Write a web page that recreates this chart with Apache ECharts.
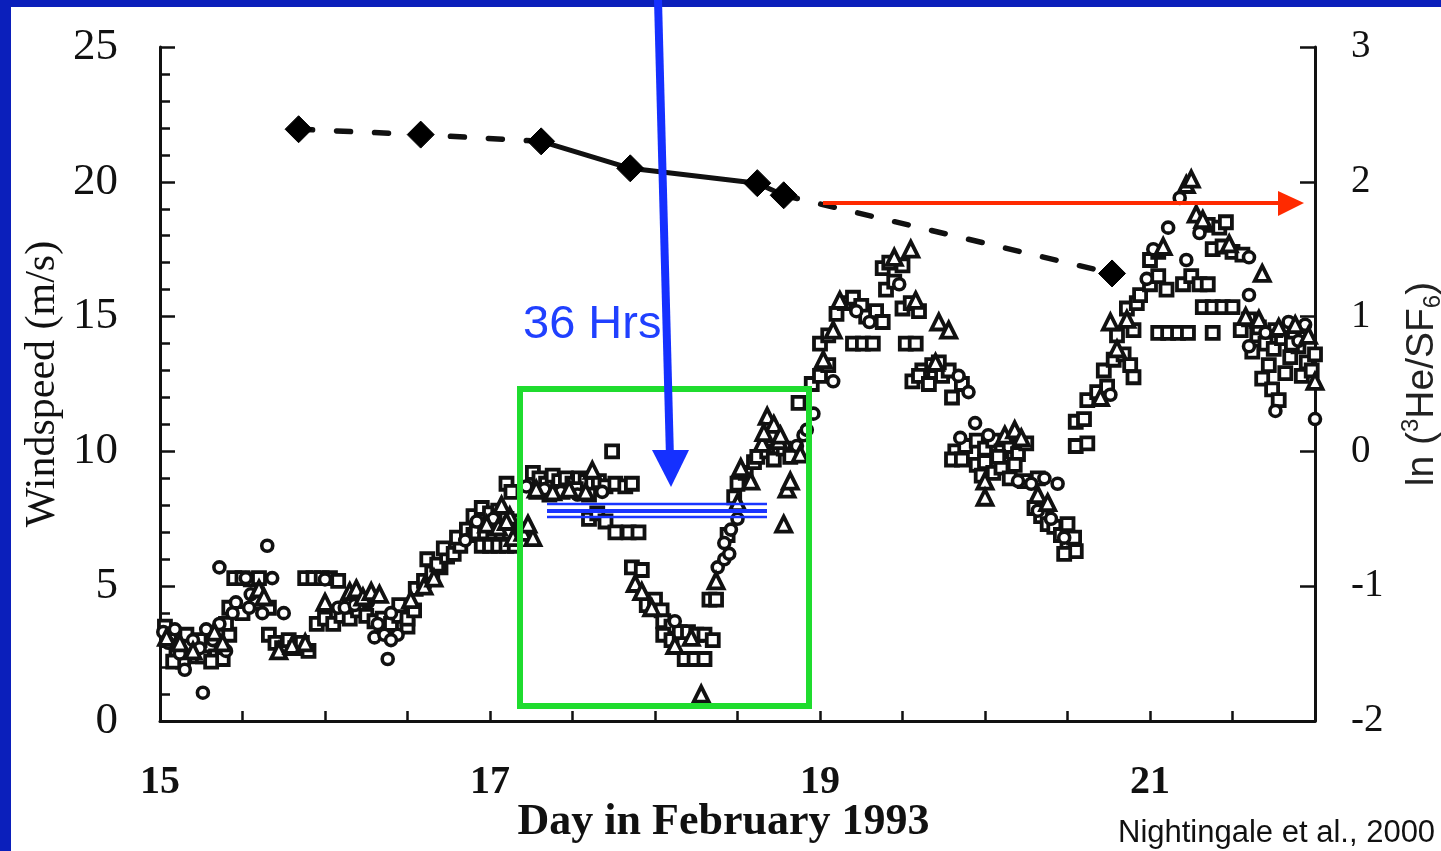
<!DOCTYPE html>
<html>
<head>
<meta charset="utf-8">
<title>Windspeed and ln(3He/SF6), February 1993</title>
<script src="https://cdn.jsdelivr.net/npm/echarts@6/dist/echarts.min.js"></script>
<style>
  html, body { margin: 0; padding: 0; background: #fff; }
  #chart { width: 1441px; height: 851px; }
</style>
</head>
<body>
<div id="chart"></div>
<script>
// x tick labels shown on the day axis
const dayLabels = [15, 17, 19, 21];

// ln(3He/SF6) samples (right axis)
const lnDays = [15.84, 16.58, 17.31, 17.85, 18.62, 18.78, 20.77];
const lnRatio = [2.39, 2.35, 2.30, 2.10, 1.99, 1.90, 1.32];

// windspeed (m/s) observations, [day, windspeed], by marker type
const squareObs = [
  [15.03, 3.5], [15.06, 3.0], [15.1, 2.6], [15.14, 2.2], [15.18, 2.8], [15.22, 2.4], [15.26, 2.4], [15.3, 2.8],
  [15.34, 2.4], [15.38, 2.3], [15.42, 3.2], [15.4, 3.6], [15.08, 2.2], [15.16, 3.2], [15.24, 3.0], [15.31, 2.2],
  [15.45, 5.3], [15.5, 5.3], [15.55, 5.25], [15.6, 5.3], [15.42, 4.2], [15.5, 4.0], [15.58, 4.4], [15.66, 4.2],
  [15.66, 3.2], [15.7, 2.9], [15.74, 2.7], [15.78, 3.0], [15.82, 2.7], [15.86, 2.9], [15.9, 2.6],
  [15.88, 5.3], [15.93, 5.3], [15.98, 5.3], [16.03, 5.3], [16.08, 5.2],
  [15.95, 3.6], [16.0, 3.8], [16.05, 3.6], [16.1, 3.9], [16.15, 3.8], [16.2, 4.1], [16.25, 3.9], [16.3, 3.7],
  [16.35, 3.8], [16.4, 3.6], [16.45, 3.9], [16.5, 3.5], [16.45, 4.3], [16.5, 3.8], [16.54, 4.1],
  [16.55, 4.9], [16.6, 5.2], [16.65, 5.5], [16.7, 5.7], [16.62, 6.0], [16.68, 5.8], [16.74, 6.1], [16.72, 6.4],
  [16.78, 6.2], [16.82, 6.5], [16.8, 6.8], [16.86, 7.1], [16.9, 6.9],
  [16.9, 7.6], [16.95, 7.9], [17.0, 7.7], [17.05, 7.8], [17.1, 7.5], [17.15, 7.4],
  [16.92, 7.0], [16.97, 7.0], [17.02, 7.0], [17.07, 7.0], [17.12, 7.0],
  [16.95, 6.5], [17.0, 6.5], [17.05, 6.5], [17.1, 6.5], [17.15, 6.5], [17.1, 8.8], [17.13, 8.5],
  [17.26, 9.2], [17.3, 9.0], [17.34, 8.8], [17.38, 9.1], [17.42, 8.9], [17.46, 9.0], [17.5, 8.8], [17.54, 9.0],
  [17.58, 8.9], [17.62, 8.8], [17.66, 8.9], [17.7, 8.7], [17.76, 8.8], [17.82, 8.7], [17.86, 8.8], [17.74, 10.0],
  [17.28, 8.5], [17.36, 8.4], [17.44, 8.5], [17.52, 8.6], [17.6, 8.4],
  [17.6, 7.5], [17.65, 7.7], [17.7, 7.4], [17.76, 7.0], [17.84, 7.0], [17.9, 7.0],
  [17.86, 5.7], [17.92, 5.6], [17.95, 4.3], [18.0, 4.5], [18.04, 4.1], [18.05, 3.7], [18.1, 3.5],
  [18.05, 3.2], [18.1, 3.0], [18.15, 3.3], [18.2, 3.3], [18.25, 3.2], [18.3, 3.2], [18.35, 3.0],
  [18.18, 2.3], [18.24, 2.3], [18.3, 2.3], [18.33, 4.5], [18.37, 4.5], [18.44, 6.9], [18.48, 8.3],
  [18.5, 8.8], [18.55, 9.2], [18.6, 9.6], [18.62, 9.8], [18.68, 10.0], [18.72, 9.7], [18.78, 10.1], [18.82, 9.8],
  [18.7, 10.6], [18.87, 11.8],
  [18.95, 12.5], [19.0, 12.8], [19.05, 13.2], [19.0, 14.0], [19.05, 14.3], [19.1, 15.1], [19.15, 15.5], [19.2, 15.7],
  [19.25, 15.4], [19.2, 14.0], [19.26, 14.0], [19.32, 14.0], [19.28, 15.0], [19.34, 15.2], [19.38, 14.8],
  [19.38, 16.8], [19.42, 17.0], [19.5, 16.9], [19.4, 16.0], [19.45, 16.3], [19.5, 15.3], [19.55, 15.5], [19.6, 15.2],
  [19.52, 14.0], [19.58, 14.0], [19.56, 12.6], [19.62, 13.0], [19.68, 13.2], [19.74, 12.8], [19.78, 13.0],
  [19.8, 12.0], [19.86, 12.5], [19.6, 12.8], [19.66, 12.5], [19.72, 13.3],
  [19.82, 10.0], [19.88, 10.2], [19.95, 10.4], [20.0, 10.1], [20.05, 10.4], [20.1, 10.0], [20.15, 10.2], [20.2, 9.9],
  [20.25, 10.3], [19.8, 9.7], [19.86, 9.7], [19.95, 9.5], [20.0, 9.6], [20.05, 9.2], [20.1, 9.4], [20.15, 9.0],
  [20.18, 9.5], [20.24, 8.9], [20.32, 9.0], [20.08, 9.8], [19.98, 9.1],
  [20.3, 7.9], [20.34, 7.6], [20.38, 7.3], [20.42, 7.2], [20.46, 6.9], [20.5, 6.6], [20.54, 6.8], [20.5, 7.3],
  [20.55, 6.3], [20.48, 6.2],
  [20.55, 11.1], [20.6, 11.2], [20.55, 10.2], [20.62, 10.3],
  [20.62, 11.9], [20.68, 12.2], [20.74, 12.4], [20.72, 13.0], [20.78, 13.4], [20.84, 13.6], [20.88, 13.2],
  [20.9, 12.75], [20.8, 14.3], [20.9, 14.5], [20.86, 15.3], [20.92, 15.5],
  [20.94, 15.8], [21.0, 16.2], [21.05, 16.5], [21.1, 16.0], [21.0, 17.1], [21.05, 17.4],
  [21.05, 14.4], [21.11, 14.4], [21.17, 14.4], [21.23, 14.4], [21.38, 14.4],
  [21.2, 16.2], [21.25, 16.5], [21.3, 16.2], [21.35, 16.2],
  [21.35, 18.4], [21.42, 18.3], [21.46, 18.5], [21.38, 17.5], [21.44, 17.6], [21.5, 17.4], [21.56, 17.3],
  [21.32, 15.35], [21.38, 15.35], [21.44, 15.35], [21.5, 15.35],
  [21.55, 14.5], [21.6, 14.9], [21.65, 14.3], [21.7, 14.0], [21.75, 13.8], [21.8, 14.2], [21.85, 13.5], [21.9, 13.9],
  [21.95, 13.3], [22.0, 13.6], [21.62, 13.7], [21.72, 13.2], [21.82, 12.9], [21.92, 12.8], [21.98, 13.0],
  [21.68, 12.7], [21.74, 12.3], [21.78, 11.9], [21.66, 14.6], [21.76, 14.5], [21.86, 14.0]
];
const circleObs = [
  [15.02, 3.3], [15.05, 2.9], [15.09, 3.4], [15.12, 2.5], [15.15, 1.9], [15.2, 3.0], [15.24, 2.7], [15.26, 1.05],
  [15.28, 3.4], [15.32, 3.0], [15.36, 3.6], [15.4, 2.6], [15.44, 4.0],
  [15.36, 5.7], [15.65, 6.5], [15.52, 5.3], [15.68, 5.3], [15.46, 4.4], [15.54, 4.2], [15.62, 4.0], [15.75, 4.0],
  [15.55, 4.7],
  [16.0, 5.25], [16.08, 4.2], [16.12, 4.2], [16.18, 4.3], [16.26, 4.4], [16.32, 3.6], [16.4, 4.0], [16.44, 3.2],
  [16.3, 3.1], [16.36, 3.2], [16.4, 3.0], [16.38, 2.3],
  [16.85, 6.7], [16.92, 7.4], [17.02, 7.5],
  [17.22, 8.7], [17.33, 8.6], [17.43, 8.5], [17.53, 8.4], [17.68, 8.5],
  [18.12, 3.7], [18.38, 5.7], [18.42, 6.0], [18.45, 6.2], [18.42, 6.6], [18.46, 7.1], [18.5, 7.5],
  [18.86, 10.2], [18.9, 10.6], [18.96, 11.4], [18.92, 10.8],
  [19.08, 12.6], [19.22, 15.2], [19.3, 14.8], [19.48, 16.2], [19.84, 12.8], [19.9, 12.2], [19.85, 10.5],
  [20.02, 10.6], [19.94, 11.05],
  [20.2, 8.9], [20.28, 8.8], [20.36, 9.0], [20.44, 8.8], [20.32, 7.8], [20.4, 7.5], [20.48, 6.8],
  [20.76, 12.1], [20.98, 16.4], [21.02, 17.5], [21.22, 17.1], [21.11, 18.3], [21.18, 19.4], [21.3, 18.1],
  [21.6, 17.2], [21.6, 15.8],
  [21.6, 13.9], [21.7, 14.4], [21.84, 14.8], [21.94, 14.7], [21.76, 11.5], [21.9, 14.1], [22.0, 11.2]
];
const triangleObs = [
  [15.04, 3.1], [15.12, 2.9], [15.2, 2.6], [15.33, 3.3], [15.38, 2.9],
  [15.6, 4.9], [15.63, 4.6], [15.72, 2.6], [15.8, 2.8], [15.88, 2.9],
  [16.0, 4.4], [16.15, 4.8], [16.19, 4.9], [16.23, 4.6], [16.28, 4.8], [16.33, 4.7], [16.52, 4.5],
  [16.6, 5.0], [16.66, 5.3], [16.98, 7.3], [17.05, 7.2], [17.12, 7.6],
  [17.07, 8.0], [17.1, 7.4], [17.14, 6.8], [17.2, 7.0], [17.26, 6.8], [17.23, 7.3],
  [17.28, 8.6], [17.38, 8.5], [17.48, 8.6], [17.58, 8.5], [17.62, 9.3],
  [17.88, 5.1], [17.92, 4.8], [17.98, 4.2], [18.12, 2.8], [18.22, 3.1], [18.28, 1.0], [18.37, 5.2],
  [18.5, 8.1], [18.52, 9.4], [18.58, 8.9], [18.65, 10.3], [18.75, 10.4], [18.68, 11.3], [18.72, 11.0],
  [18.66, 10.7], [18.76, 10.6], [18.8, 8.6], [18.82, 8.9], [18.78, 7.3], [18.88, 9.9],
  [19.02, 13.4], [19.08, 14.5], [19.12, 15.6], [19.45, 17.2], [19.55, 17.5], [19.58, 15.6], [19.72, 14.8],
  [19.78, 14.5], [19.7, 13.3],
  [20.12, 10.6], [20.18, 10.8], [20.22, 10.5], [20.0, 8.9], [20.0, 8.3], [20.32, 8.4], [20.38, 8.1],
  [20.7, 12.0], [20.8, 13.8], [20.76, 14.8], [20.86, 14.9], [21.08, 17.6], [21.22, 19.9], [21.25, 20.1],
  [21.28, 18.8], [21.32, 18.6], [21.48, 17.7], [21.68, 16.6],
  [21.58, 15.0], [21.66, 14.9], [21.78, 14.6], [21.88, 14.7], [21.96, 14.3], [22.0, 12.6]
];

const ink = "#111111";
const lnPoints = lnDays.map((d, i) => [d, lnRatio[i]]);

function openMarker(name, symbol, size, border, data) {
  return {
    name: name,
    type: "scatter",
    xAxisIndex: 0,
    yAxisIndex: 0,
    data: data,
    symbol: symbol,
    symbolSize: size,
    itemStyle: { color: "#ffffff", borderColor: ink, borderWidth: border, opacity: 1 },
    z: 3,
  };
}

const serif = "Liberation Serif";
const sans = "Liberation Sans";

const option = {
  animation: false,
  backgroundColor: "#ffffff",
  grid: { left: 160, right: 126, top: 47, bottom: 130, containLabel: false, outerBoundsMode: "none" },
  xAxis: {
    type: "value",
    min: 15,
    max: 22,
    interval: 0.5,
    axisLine: { show: true, onZero: false, lineStyle: { color: ink, width: 3 } },
    axisTick: { show: true, inside: true, length: 10, lineStyle: { color: ink, width: 2.5 } },
    axisLabel: {
      margin: 42,
      color: ink,
      fontFamily: serif,
      fontSize: 40,
      fontWeight: "bold",
      formatter: (v) => (dayLabels.includes(v) ? String(v) : ""),
    },
    splitLine: { show: false },
    name: "Day in February 1993",
    nameLocation: "middle",
    nameGap: 80,
    nameMoveOverlap: false,
    nameTextStyle: { color: ink, fontFamily: serif, fontSize: 44, fontWeight: "bold", padding: [0, 28, 0, 0] },
  },
  yAxis: [
    {
      type: "value",
      position: "left",
      min: 0,
      max: 25,
      interval: 5,
      axisLine: { show: true, onZero: false, lineStyle: { color: ink, width: 3 } },
      axisTick: { show: true, inside: true, length: 15, lineStyle: { color: ink, width: 2.5 } },
      minorTick: { show: true, splitNumber: 5, length: 10, lineStyle: { color: ink, width: 2.5 } },
      axisLabel: { margin: 42, color: ink, fontFamily: serif, fontSize: 45 },
      splitLine: { show: false },
      name: "Windspeed (m/s)",
      nameLocation: "middle",
      nameRotate: 90,
      nameGap: 96,
      nameMoveOverlap: false,
      nameTextStyle: { color: ink, fontFamily: serif, fontSize: 42 },
    },
    {
      type: "value",
      position: "right",
      min: -2,
      max: 3,
      interval: 1,
      axisLine: { show: true, onZero: false, lineStyle: { color: ink, width: 3 } },
      axisTick: { show: true, inside: true, length: 15, lineStyle: { color: ink, width: 2.5 } },
      axisLabel: { margin: 36, color: ink, fontFamily: serif, fontSize: 39 },
      splitLine: { show: false },
      name: "{n|ln (}{sup|3}{n|He/SF}{sub|6}{n|)}",
      nameLocation: "middle",
      nameRotate: 90,
      nameGap: 84,
      nameMoveOverlap: false,
      nameTextStyle: {
        rich: {
          n: { fontFamily: sans, fontSize: 39, color: "#222222", lineHeight: 46 },
          sup: { fontFamily: sans, fontSize: 24, color: "#222222", lineHeight: 24, verticalAlign: "top" },
          sub: { fontFamily: sans, fontSize: 24, color: "#222222", lineHeight: 24, verticalAlign: "bottom" },
        },
      },
    },
  ],
  series: [
    openMarker("squares", "rect", 12, 3.8, squareObs),
    openMarker("circles", "circle", 11, 3.6, circleObs),
    openMarker("triangles", "triangle", 15, 3.8, triangleObs),
    {
      name: "ln dashed early",
      type: "line",
      yAxisIndex: 1,
      data: lnPoints.slice(0, 3),
      showSymbol: false,
      lineStyle: { color: ink, width: 5.5, type: [14, 24], cap: "round", opacity: 1 },
      z: 4,
    },
    {
      name: "ln solid",
      type: "line",
      yAxisIndex: 1,
      data: lnPoints.slice(2, 6),
      showSymbol: false,
      lineStyle: { color: ink, width: 5, type: "solid", opacity: 1 },
      z: 4,
    },
    {
      name: "ln dashed late",
      type: "line",
      yAxisIndex: 1,
      data: lnPoints.slice(5, 7),
      showSymbol: false,
      lineStyle: { color: ink, width: 5.5, type: [14, 24], cap: "round", opacity: 1 },
      z: 4,
    },
    {
      name: "ln(3He/SF6)",
      type: "scatter",
      yAxisIndex: 1,
      data: lnPoints,
      symbol: "diamond",
      symbolSize: 27,
      itemStyle: { color: "#000000", borderColor: "#000000", borderWidth: 1, opacity: 1 },
      z: 5,
    },
  ],
  graphic: {
    elements: [
      // green box around the 36 h window
      { type: "rect", z: 100, shape: { x: 520, y: 389, width: 289, height: 317 },
        style: { fill: "none", stroke: "#1fdc2e", lineWidth: 6 } },
      // blue triple line
      { type: "line", z: 101, shape: { x1: 547, y1: 504, x2: 767, y2: 504 }, style: { stroke: "#1a35ff", lineWidth: 2.5 } },
      { type: "line", z: 101, shape: { x1: 547, y1: 511, x2: 767, y2: 511 }, style: { stroke: "#1a35ff", lineWidth: 4 } },
      { type: "line", z: 101, shape: { x1: 547, y1: 517, x2: 767, y2: 517 }, style: { stroke: "#1a35ff", lineWidth: 2.5 } },
      // red arrow
      { type: "line", z: 101, shape: { x1: 823, y1: 203, x2: 1282, y2: 203 }, style: { stroke: "#ff2a00", lineWidth: 4 } },
      { type: "polygon", z: 101, shape: { points: [[1278, 191], [1278, 216], [1304, 203]] }, style: { fill: "#ff2a00" } },
      // page frame
      { type: "rect", z: 102, shape: { x: 0, y: 0, width: 1441, height: 7 }, style: { fill: "#0b1fbb" } },
      { type: "rect", z: 102, shape: { x: 0, y: 0, width: 11, height: 851 }, style: { fill: "#0b1fbb" } },
      // blue arrow
      { type: "line", z: 103, shape: { x1: 658, y1: 0, x2: 670, y2: 458 }, style: { stroke: "#1530ff", lineWidth: 8 } },
      { type: "polygon", z: 103, shape: { points: [[652, 450], [689, 450], [671, 487]] }, style: { fill: "#1530ff" } },
      // labels
      { type: "text", z: 103, left: 523, top: 302,
        style: { text: "36 Hrs", fill: "#2040ff", font: "47px 'Liberation Sans'" } },
      { type: "text", z: 103, left: 1118, top: 818,
        style: { text: "Nightingale et al., 2000", fill: "#111111", font: "31px 'Liberation Sans'" } },
    ],
  },
};

const chart = echarts.init(document.getElementById("chart"));
chart.setOption(option);
</script>
</body>
</html>
